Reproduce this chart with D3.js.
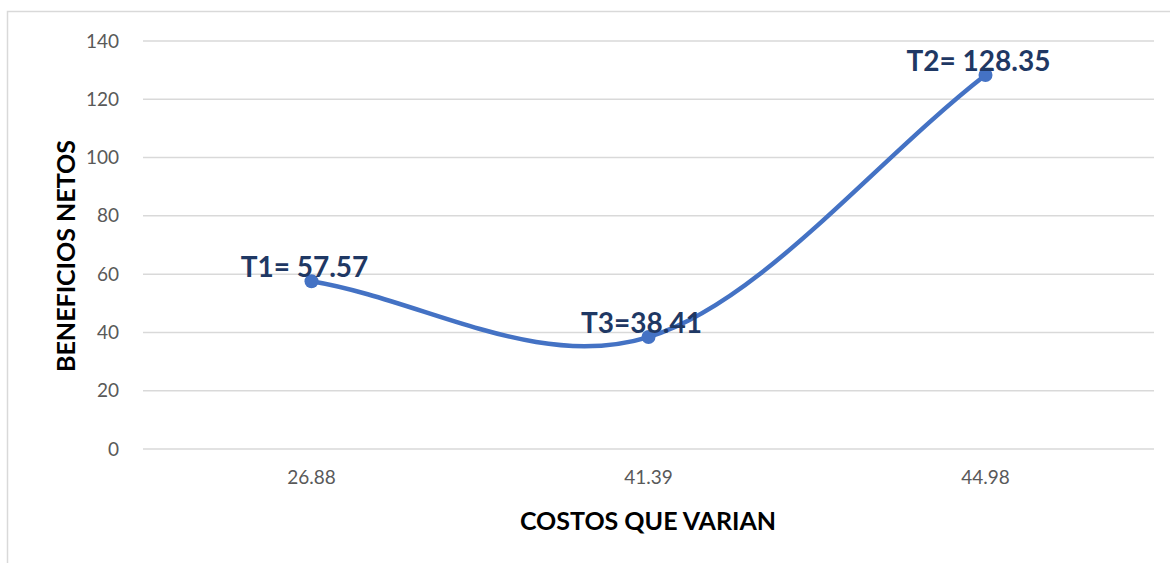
<!DOCTYPE html>
<meta charset="utf-8">
<style>
body { margin: 0; background: #fff; }
svg text { font-family: 'Lato', 'Open Sans', sans-serif; }
.tick text { fill: #595959; font-size: 19px; font-family: 'Lato', sans-serif; }
.grid line { stroke: #d9d9d9; stroke-width: 1.5; }
.ttl { font-weight: bold; font-size: 25px; fill: #000; }
.lbl { font-weight: bold; font-size: 28px; fill: #1f3864; }
</style>
<body>
<div id="chart"></div>
<script src="https://cdn.jsdelivr.net/npm/d3@7"></script>
<script>
var categories = ['26.88', '41.39', '44.98'];
var values = [57.57, 38.41, 128.35];
var labels = ['T1= 57.57', 'T3=38.41', 'T2= 128.35'];
var yTicks = [0, 20, 40, 60, 80, 100, 120, 140];

// smoothed line like the spreadsheet one: inner tangents (next - prev)/6,
// end control points a third of the way along the chord
function smoothCurve(context) {
  var pts;
  return {
    areaStart: function(){}, areaEnd: function(){},
    lineStart: function(){ pts = []; },
    point: function(x, y){ pts.push([x, y]); },
    lineEnd: function(){
      var n = pts.length;
      context.moveTo(pts[0][0], pts[0][1]);
      for (var i = 0; i < n - 1; i++) {
        var p0 = pts[i], p1 = pts[i + 1], c1, c2;
        if (i === 0) c1 = [p0[0] + (p1[0] - p0[0]) / 3, p0[1] + (p1[1] - p0[1]) / 3];
        else c1 = [p0[0] + (p1[0] - pts[i - 1][0]) / 6, p0[1] + (p1[1] - pts[i - 1][1]) / 6];
        if (i === n - 2) c2 = [p1[0] - (p1[0] - p0[0]) / 3, p1[1] - (p1[1] - p0[1]) / 3];
        else c2 = [p1[0] - (pts[i + 2][0] - p0[0]) / 6, p1[1] - (pts[i + 2][1] - p0[1]) / 6];
        context.bezierCurveTo(c1[0], c1[1], c2[0], c2[1], p1[0], p1[1]);
      }
    }
  };
}

var svg = d3.select('#chart').append('svg')
  .attr('width', 1170)
  .attr('height', 563);

// chart border (right side falls outside the picture)
svg.append('rect')
  .attr('x', 7.5).attr('y', 11.5)
  .attr('width', 1180).attr('height', 570)
  .attr('fill', 'none')
  .attr('stroke', '#d9d9d9')
  .attr('stroke-width', 1.5);

var x = d3.scaleBand().domain(categories).range([143, 1154]);
var y = d3.scaleLinear().domain([0, 140]).range([449, 41]);

var grid = svg.append('g').attr('class', 'grid');
grid.selectAll('line').data(yTicks).enter().append('line')
  .attr('x1', 143).attr('x2', 1154)
  .attr('y1', function(d){ return y(d); })
  .attr('y2', function(d){ return y(d); });

var yAxis = svg.append('g')
  .attr('transform', 'translate(143,0)')
  .call(d3.axisLeft(y).tickValues(yTicks).tickSize(0).tickPadding(24));
yAxis.select('.domain').remove();

var xAxis = svg.append('g')
  .attr('transform', 'translate(0,449)')
  .call(d3.axisBottom(x).tickSize(0).tickPadding(22));
xAxis.select('.domain').remove();

var pts = categories.map(function(c, i){ return [x(c) + x.bandwidth() / 2, y(values[i])]; });

var line = d3.line().curve(smoothCurve);
svg.append('path')
  .datum(pts)
  .attr('d', line)
  .attr('fill', 'none')
  .attr('stroke', '#4472c4')
  .attr('stroke-width', 4.5)
  .attr('stroke-linecap', 'round');

svg.selectAll('circle.pt').data(pts).enter().append('circle')
  .attr('class', 'pt')
  .attr('cx', function(d){ return d[0]; })
  .attr('cy', function(d){ return d[1]; })
  .attr('r', 7)
  .attr('fill', '#4472c4');

svg.selectAll('text.lbl').data(pts).enter().append('text')
  .attr('class', 'lbl')
  .attr('text-anchor', 'middle')
  .attr('x', function(d){ return d[0] - 7; })
  .attr('y', function(d){ return d[1] - 4; })
  .text(function(d, i){ return labels[i]; });

svg.append('text')
  .attr('class', 'ttl')
  .attr('text-anchor', 'middle')
  .attr('x', 648).attr('y', 530)
  .text('COSTOS QUE VARIAN');

svg.append('text')
  .attr('class', 'ttl')
  .attr('text-anchor', 'middle')
  .attr('transform', 'translate(75,256) rotate(-90)')
  .text('BENEFICIOS NETOS');
</script>
</body>
